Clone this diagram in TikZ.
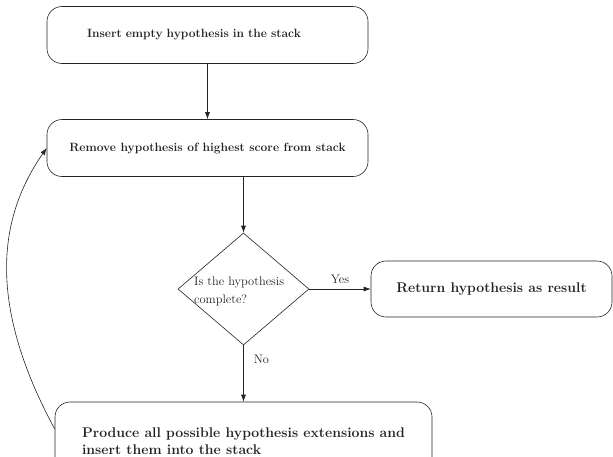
\documentclass[tikz,border=0pt]{standalone}
\usetikzlibrary{shapes.geometric,arrows.meta}
\definecolor{ink}{HTML}{1E2626}
\definecolor{txt}{HTML}{222222}
\begin{document}
\begin{tikzpicture}[x=1pt,y=-1pt,
  box/.style={draw=ink,line width=0.6pt,rounded corners=15pt,text=txt,
    font=\fontsize{12}{17}\selectfont\bfseries,inner sep=0pt},
  bigbox/.style={box,font=\fontsize{14}{17}\selectfont\bfseries},
  dec/.style={draw=ink,line width=0.6pt,shape=diamond,minimum width=131pt,minimum height=112pt,inner sep=0pt},
  plain/.style={text=txt,font=\fontsize{12.4}{18}\selectfont,inner sep=0pt},
  arr/.style={draw=ink,line width=0.6pt,-{Latex[length=7pt,width=5pt]}}]
\useasboundingbox (0,0) rectangle (613,456);
\node[box,minimum width=321pt,minimum height=57pt,inner xsep=40pt,text width=241pt,align=left] (b1) at (207.5,35) {Insert empty hypothesis in the stack};
\node[box,minimum width=321pt,minimum height=57pt] (b2) at (207.5,148) {Remove hypothesis of highest score from stack};
\node[dec] (d) at (243.5,289) {};
\node[plain,anchor=west,align=left] (dt) at (194,291) {Is the hypothesis\\complete?};
\node[bigbox,minimum width=241pt,minimum height=56pt] (r) at (491.5,289) {Return hypothesis as result};
\node[bigbox,minimum width=377pt,minimum height=78pt,align=left] (b4) at (243.5,441) {Produce all possible hypothesis extensions and\\insert them into the stack};
\draw[arr] (b1) -- (b2);
\draw[arr] (b2.south -| d.north) -- (d.north);
\draw[arr] (d) -- node[plain,above=5pt] (yes) {Yes} (r);
\draw[arr] (d) -- node[plain,pos=0.25,right=10pt] (no) {No} (b4.north);
\draw[arr] ([yshift=12pt]b4.west) .. controls (-15,300) and (0,215) .. (b2.west);
\end{tikzpicture}
\end{document}
